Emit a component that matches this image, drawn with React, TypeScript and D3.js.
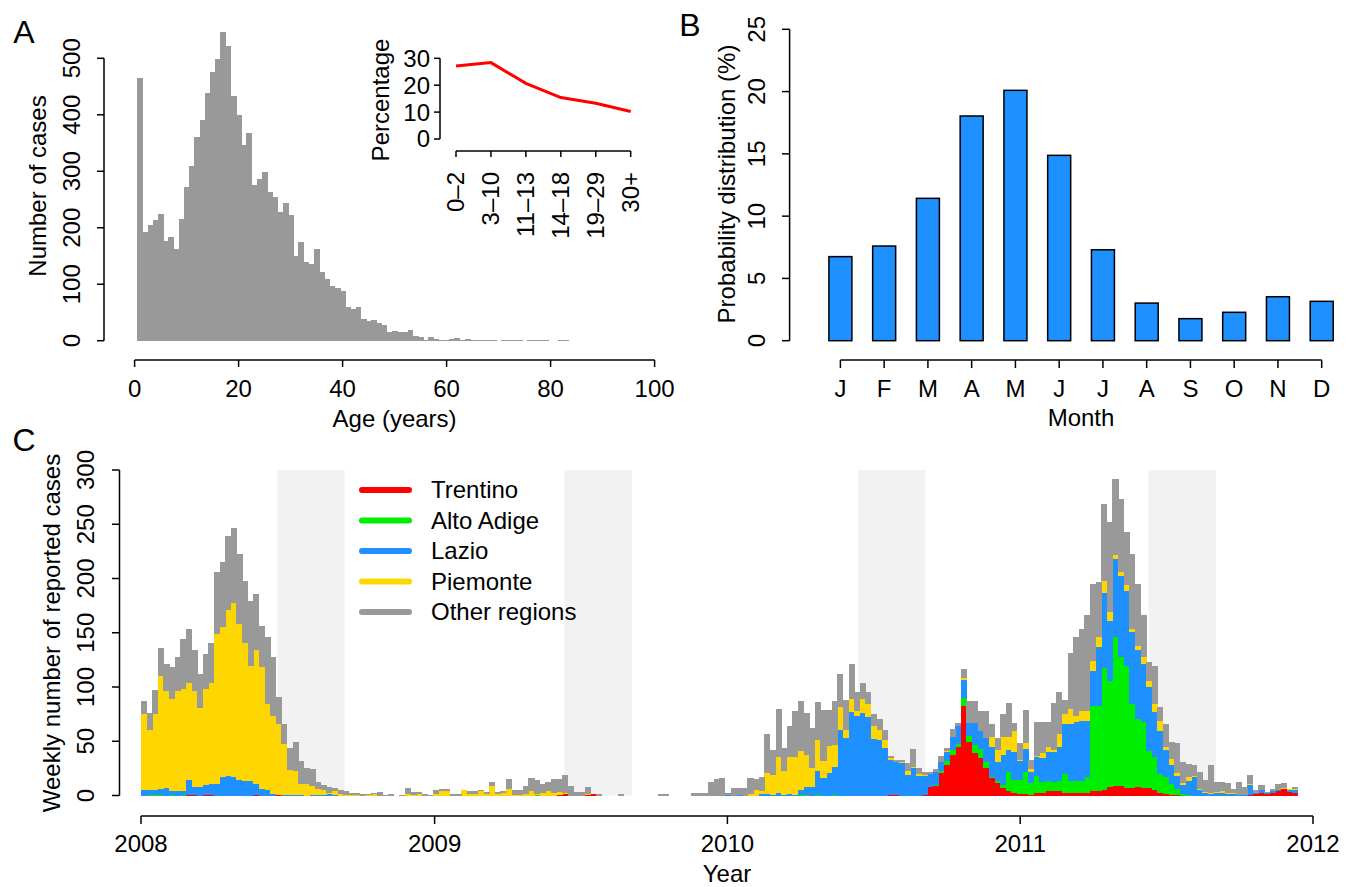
import React from "react";
import * as d3 from "d3";

const FONT = "'Liberation Sans', Arial, Helvetica, sans-serif";
const FS = 24;

// ---------- Panel A: age histogram (1-year bins, starting at 0.5) ----------
const ageCounts = [
  466, 193, 205, 214, 225, 177, 183, 163, 215, 273,
  309, 360, 391, 439, 476, 498, 547, 521, 434, 400,
  347, 368, 276, 287, 298, 263, 255, 227, 243, 223,
  150, 174, 139, 135, 162, 122, 109, 97, 93, 88,
  60, 56, 60, 38, 35, 37, 32, 28, 16, 18,
  16, 15, 19, 8, 6, 2, 6, 3, 2, 2,
  3, 5, 1, 3, 1, 1, 1, 2, 1, 0,
  1, 1, 1, 1, 0, 1, 1, 1, 1, 0,
  0, 1, 1,
];
const ageBinStart = 0.5;
const ageTicks = [0, 20, 40, 60, 80, 100];
const caseTicks = [0, 100, 200, 300, 400, 500];

// ---------- Inset ----------
const ageGroups = ["0\u20132", "3\u201310", "11\u201313", "14\u201318", "19\u201329", "30+"];
const ageGroupPct = [27.1, 28.4, 20.7, 15.4, 13.3, 10.2];
const pctTicks = [0, 10, 20, 30];

// ---------- Panel B ----------
const monthLabels = ["J", "F", "M", "A", "M", "J", "J", "A", "S", "O", "N", "D"];
const monthProb = [6.75, 7.6, 11.43, 18.04, 20.1, 14.88, 7.3, 3.02, 1.77, 2.28, 3.53, 3.16];
const probTicks = [0, 5, 10, 15, 20, 25];

// ---------- Panel C: weekly cases from 2008-01-01 ----------
const firstWeek = "2008-01-01";
const trentino = [
  0, 0, 0, 0, 0, 0, 0, 0, 1, 1,
  0, 1, 1, 0, 0, 0, 0, 0, 0, 0,
  1, 0, 0, 0, 0.5, 0, 0, 0, 0, 0,
  0, 0, 0, 0, 0, 0, 0, 0, 0, 0,
  0, 0, 0, 0, 0, 0, 0, 0, 0, 0,
  0, 0, 0, 0, 0, 0, 0, 0, 0, 0,
  0, 0, 0, 0, 0, 0, 0, 0, 0, 0,
  0, 0, 0, 0, 0.5, 2, 0, 0, 0, 1,
  1, 0, 0, 0, 0, 0, 0, 0, 0, 0,
  0, 0, 0, 0, 0, 0, 0, 0, 0, 0,
  0, 0, 0, 0, 0, 0, 0, 0, 0, 0,
  0, 0, 0, 0, 0, 0, 0, 0, 0, 0,
  0, 0, 0, 0, 0, 0, 0, 0, 0, 0,
  0, 0, 0, 1, 1, 0, 0, 0, 0, 1,
  8, 9, 21, 28, 38, 45, 83, 50, 39, 35,
  26, 16, 12, 7, 4, 3, 2, 2, 1, 3,
  3, 4, 4, 4, 3, 3, 3, 3, 3, 4,
  4, 5, 8, 9, 9, 7, 7, 8, 7, 7,
  5, 3, 2, 1, 1, 0, 0, 0, 0, 0,
  0, 0, 0, 0, 0, 0, 0, 1, 2, 3,
  2, 3, 4, 6, 3.5, 3,
];
const altoAdige = [
  0, 1, 0.5, 1, 0, 1, 0, 1, 0, 0,
  0, 0, 0, 0, 0, 0, 0, 0, 0, 0,
  0, 0, 0, 0, 0, 0, 0, 0, 0, 0,
  0, 0, 0, 0, 0, 0, 0, 0, 0, 0,
  0, 0, 0, 0, 0, 0, 0, 0, 0, 0,
  0, 0, 0, 0, 0, 0, 0, 0, 0, 0,
  0, 0, 0, 0, 0, 0, 0, 0, 0, 0,
  1, 0, 0, 0, 0, 0, 0, 0, 0, 0,
  0, 0, 0, 0, 0, 0, 0, 0, 0, 0,
  0, 0, 0, 0, 0, 0, 0, 0, 0, 0,
  0, 0, 0, 0, 0, 0, 0, 0, 0, 0,
  0, 0, 0, 0, 0, 0, 0, 0.5, 1, 0,
  1, 0, 0, 1, 0, 0, 0, 0, 0, 0,
  0, 0, 0, 0, 0, 0, 0, 0, 0, 0,
  0, 1, 2, 4, 4, 3, 7, 5, 8, 8,
  5, 1, 2, 3, 18, 12, 13, 20, 11, 15,
  10, 10, 9, 10, 17, 11, 11, 11, 14, 79,
  79, 113, 98, 137.6, 118.6, 113, 77.7, 63, 61, 34.7,
  30.6, 17, 15, 10, 5, 2, 1, 0, 0, 0,
  0, 0, 0, 0, 0, 0, 0, 0, 0, 0,
  0, 0, 0, 0, 0, 0,
];
const lazio = [
  5.5, 4, 4.5, 5, 7, 3.5, 4.5, 3.5, 14, 7,
  8, 9, 10, 11, 17, 18, 17, 15, 14, 14,
  10, 6, 5.5, 1.5, 0.5, 1, 1, 1, 0.5, 0,
  1, 0.5, 1, 1.5, 0.5, 0, 0, 0, 0, 0,
  0, 0, 0, 0, 0, 0, 0, 0, 0, 0,
  0, 0, 0, 0, 0, 0, 0, 0, 0, 0,
  0, 0, 0, 0, 0, 0, 0, 0, 0, 0,
  0, 0, 0, 0, 0, 0, 0, 0, 0, 0,
  0, 0, 0, 0, 0, 0, 0, 0, 0, 0,
  0, 0, 0, 0, 0, 0, 0, 0, 0, 0,
  0, 0, 0, 0, 1, 0, 1, 0, 0, 0,
  2, 2, 1, 3, 1, 2, 1, 4.5, 7.5, 8.5,
  22, 16, 21, 26, 61, 53, 77.6, 73.6, 76, 72.4,
  52, 51.5, 44, 32, 30.6, 30, 19, 26, 18, 17,
  12, 12, 8, 8, 12, 16, 17, 12, 20, 17,
  22, 28, 17, 28, 20, 25, 17, 21, 10, 18,
  22, 26, 27, 31, 46, 52, 54, 55, 52, 32,
  54, 69, 55, 71.4, 75.4, 69, 66, 63, 53.5, 58.3,
  41.4, 40, 25, 17, 12.7, 7.5, 13, 17, 5, 3,
  2, 3, 3, 2, 2, 1, 1, 8.5, 1, 2,
  0.5, 1, 1, 0.5, 2, 2,
];
const piemonte = [
  69.5, 56, 70, 104, 90, 84.5, 92.5, 93.5, 89, 89,
  73, 88, 93, 138, 139, 153, 161, 143, 127, 106,
  123, 113, 79.5, 72.5, 65, 47, 23, 22, 10.5, 11,
  8, 5.5, 4.5, 1.5, 3.5, 2, 1, 1, 0.5, 0,
  1, 1.5, 0, 0, 0, 0, 0, 2, 1, 1.5,
  0, 0, 1.5, 4.5, 4.5, 0, 0, 5, 2, 2,
  4.5, 2, 9, 2, 2.5, 6, 1, 1, 1.5, 4,
  1, 3, 4, 2.5, 3, 1, 0, 0, 0, 1,
  0, 0, 0, 0, 0, 0, 0, 0, 0, 0,
  0, 0, 0, 0, 0, 0, 0, 0, 0, 0,
  0, 0, 0, 0, 0, 0, 0, 0, 2, 5,
  2, 19, 18.5, 33, 22, 34, 35, 36, 29.5, 17,
  28.5, 16.5, 25, 20, 21, 8, 11.4, 5, 13, 12.3,
  12.4, 9.5, 7.5, 2, 0, 1, 3.4, 1, 2, 1,
  0, 0, 0, 1, 0, 0, 2, 0, 0, 0,
  0, 9, 11, 16, 12, 20, 1, 6, 3, 1,
  4, 5, 2, 12, 9.5, 14, 6, 9.5, 9.5, 9.5,
  9, 11, 8, 4, 3, 5.5, 3, 4, 6.5, 6,
  8, 8.7, 3, 6, 2.3, 2.2, 3, 1, 1, 0.5,
  1, 0.5, 1, 1, 1, 0, 0, 1, 0, 0,
  0, 0, 0, 0.5, 0.5, 1,
];
const otherRegions = [
  12, 15, 22, 26, 24, 29, 31, 46, 49, 37,
  31, 32, 37, 57, 59, 68, 69, 65, 57, 59,
  52, 37, 61, 54, 25, 18, 20, 26, 21, 14,
  15, 6, 4.5, 5, 3, 3, 3, 1.5, 2, 1.5,
  0.5, 0.5, 3, 0.5, 1, 0, 0.5, 5, 2, 1.5,
  1, 0.5, 3.5, 1.5, 1.5, 1, 1, 0, 2.6, 2.6,
  0.5, 1, 3, 1, 1.5, 9, 4, 4, 7.5, 12,
  12, 8, 8, 12.5, 11.5, 16, 9, 3, 3, 6,
  0, 1, 0, 0, 0, 1.5, 0, 0, 0, 0,
  0, 0, 1, 1, 0, 0, 0, 0, 2, 2,
  2, 12, 15, 16, 1, 7, 6, 7, 14, 10,
  13, 36, 22.5, 44, 21, 28, 41.6, 46, 38, 36.5,
  35, 46.5, 33, 40, 30, 27, 32, 16.5, 15, 11,
  11.1, 9.6, 9.2, 1, 1.4, 2, 7.6, 15.9, 5.5, 2.5,
  2, 2, 5, 3, 7, 3, 8, 20, 20, 18,
  25, 12, 11, 21, 31, 7, 15, 30, 8, 31,
  29, 23, 43, 38, 12.5, 51, 72, 74.5, 87.5, 70,
  51, 71, 83, 70, 67, 48.5, 69.3, 57, 38, 17,
  34, 12.9, 21, 15, 27, 19.3, 12.4, 10, 16, 10.5,
  25, 9, 8.6, 8.7, 3.4, 11.6, 7, 8.2, 2, 4.5,
  1, 2.4, 5.4, 4.7, 0.4, 2,
];
const regionKeys = ["trentino", "altoAdige", "lazio", "piemonte", "other"];
const regionNames = ["Trentino", "Alto Adige", "Lazio", "Piemonte", "Other regions"];
const regionColors = ["#FF0000", "#00EE00", "#1E90FF", "#FFD700", "#999999"];
const yearTicks = [2008, 2009, 2010, 2011, 2012];
const weeklyTicks = [0, 50, 100, 150, 200, 250, 300];
const holidayStarts = ["2008-06-19", "2009-06-12", "2010-06-13", "2011-06-10"];
const holidayDays = 84;

const parse = d3.timeParse("%Y-%m-%d");

export default function App() {
  // Panel A scales
  const xA = d3.scaleLinear().domain([0, 100]).range([134.6, 654.6]);
  const yA = d3.scaleLinear().domain([0, 500]).range([340.7, 58.3]);
  // Inset scales
  const xI = d3.scalePoint<string>().domain(ageGroups).range([456, 630.7]);
  const yI = d3.scaleLinear().domain([0, 30]).range([139, 58.3]);
  // Panel B scales
  const xB = d3.scalePoint<number>().domain(d3.range(monthLabels.length)).range([840.4, 1321.7]);
  const yB = d3.scaleLinear().domain([0, 25]).range([340.7, 29.3]);
  const barW = 23;
  // Panel C scales
  const xC = d3
    .scaleTime()
    .domain([new Date(2008, 0, 1), new Date(2012, 0, 1)])
    .range([141, 1313]);
  const yC = d3.scaleLinear().domain([0, 300]).range([795.5, 470]);

  const start = parse(firstWeek) as Date;
  const rows = trentino.map((_, k) => ({
    week: d3.timeDay.offset(start, 7 * k),
    trentino: trentino[k],
    altoAdige: altoAdige[k],
    lazio: lazio[k],
    piemonte: piemonte[k],
    other: otherRegions[k],
  }));
  const series = d3.stack<any>().keys(regionKeys)(rows);

  const inLine = d3
    .line<number>()
    .x((_, i) => xI(ageGroups[i]) as number)
    .y((d) => yI(d));

  const axisStroke = { stroke: "#000", strokeWidth: 1.5, fill: "none" };
  const txt = { fontFamily: FONT, fontSize: FS, fill: "#000" } as const;

  return (
    <svg
      width={1353}
      height={887}
      style={{ position: "absolute", left: 0, top: 0, background: "#fff" }}
    >
      <rect x={0} y={0} width={1353} height={887} fill="#fff" />

      {/* ================= Panel A ================= */}
      <text x={24} y={32} dy="0.35em" textAnchor="middle" {...txt} fontSize={32}>
        A
      </text>
      <g shapeRendering="crispEdges" fill="#999999">
        {ageCounts.map((c, i) =>
          c > 0 ? (
            <rect
              key={"h" + i}
              x={xA(ageBinStart + i)}
              y={yA(c)}
              width={xA(ageBinStart + i + 1) - xA(ageBinStart + i) + 0.5}
              height={yA(0) - yA(c)}
            />
          ) : null
        )}
      </g>
      {/* y axis */}
      <line x1={104} x2={104} y1={yA(0)} y2={yA(500)} {...axisStroke} />
      {caseTicks.map((t) => (
        <g key={"ya" + t}>
          <line x1={97} x2={104} y1={yA(t)} y2={yA(t)} {...axisStroke} />
          <text
            transform={`translate(72,${yA(t)}) rotate(-90)`}
            textAnchor="middle"
            dy="0.35em"
            {...txt}
          >
            {t}
          </text>
        </g>
      ))}
      <text transform={`translate(38,186) rotate(-90)`} textAnchor="middle" dy="0.35em" {...txt}>
        Number of cases
      </text>
      {/* x axis */}
      <line x1={xA(0)} x2={xA(100)} y1={360} y2={360} {...axisStroke} />
      {ageTicks.map((t) => (
        <g key={"xa" + t}>
          <line x1={xA(t)} x2={xA(t)} y1={360} y2={367} {...axisStroke} />
          <text x={xA(t)} y={389} dy="0.35em" textAnchor="middle" {...txt}>
            {t}
          </text>
        </g>
      ))}
      <text x={xA(50)} y={419} dy="0.35em" textAnchor="middle" {...txt}>
        Age (years)
      </text>

      {/* ---------- Inset ---------- */}
      <path d={inLine(ageGroupPct) || ""} stroke="#FF0000" strokeWidth={3} fill="none" />
      <line x1={440} x2={440} y1={yI(0)} y2={yI(30)} {...axisStroke} />
      {pctTicks.map((t) => (
        <g key={"yi" + t}>
          <line x1={434} x2={440} y1={yI(t)} y2={yI(t)} {...axisStroke} />
          <text x={430} y={yI(t)} dy="0.35em" textAnchor="end" {...txt}>
            {t}
          </text>
        </g>
      ))}
      <text transform={`translate(381,100) rotate(-90)`} textAnchor="middle" dy="0.35em" {...txt}>
        Percentage
      </text>
      <line
        x1={xI(ageGroups[0])}
        x2={xI(ageGroups[ageGroups.length - 1])}
        y1={151}
        y2={151}
        {...axisStroke}
      />
      {ageGroups.map((g) => (
        <g key={"xi" + g}>
          <line x1={xI(g)} x2={xI(g)} y1={151} y2={157} {...axisStroke} />
          <text
            transform={`translate(${xI(g)},172) rotate(-90)`}
            textAnchor="end"
            dy="0.35em"
            {...txt}
          >
            {g}
          </text>
        </g>
      ))}

      {/* ================= Panel B ================= */}
      <text x={690} y={25} dy="0.35em" textAnchor="middle" {...txt} fontSize={32}>
        B
      </text>
      {monthProb.map((v, i) => (
        <rect
          key={"b" + i}
          x={(xB(i) as number) - barW / 2}
          y={yB(v)}
          width={barW}
          height={yB(0) - yB(v)}
          fill="#1E90FF"
          stroke="#000"
          strokeWidth={1.5}
        />
      ))}
      <line x1={789.6} x2={789.6} y1={yB(0)} y2={yB(25)} {...axisStroke} />
      {probTicks.map((t) => (
        <g key={"yb" + t}>
          <line x1={782} x2={789.6} y1={yB(t)} y2={yB(t)} {...axisStroke} />
          <text
            transform={`translate(757,${yB(t)}) rotate(-90)`}
            textAnchor="middle"
            dy="0.35em"
            {...txt}
          >
            {t}
          </text>
        </g>
      ))}
      <text transform={`translate(727,184) rotate(-90)`} textAnchor="middle" dy="0.35em" {...txt}>
        Probability distribution (%)
      </text>
      <line x1={xB(0)} x2={xB(11)} y1={360} y2={360} {...axisStroke} />
      {monthLabels.map((m, i) => (
        <g key={"xb" + i}>
          <line x1={xB(i)} x2={xB(i)} y1={360} y2={368} {...axisStroke} />
          <text x={xB(i)} y={389} dy="0.35em" textAnchor="middle" {...txt}>
            {m}
          </text>
        </g>
      ))}
      <text x={1081} y={418} dy="0.35em" textAnchor="middle" {...txt}>
        Month
      </text>

      {/* ================= Panel C ================= */}
      <text x={24} y={440} dy="0.35em" textAnchor="middle" {...txt} fontSize={32}>
        C
      </text>
      {holidayStarts.map((s) => {
        const d0 = parse(s) as Date;
        const d1 = d3.timeDay.offset(d0, holidayDays);
        return (
          <rect
            key={"hol" + s}
            x={xC(d0)}
            y={yC(300)}
            width={xC(d1) - xC(d0)}
            height={yC(0) - yC(300)}
            fill="#F2F2F2"
          />
        );
      })}
      <g shapeRendering="crispEdges">
        {series.map((s, si) => (
          <g key={"s" + si} fill={regionColors[si]}>
            {s.map((d: any, k: number) => {
              const h = yC(d[0]) - yC(d[1]);
              if (h <= 0) return null;
              const x0 = xC(d.data.week);
              const x1 = xC(d3.timeDay.offset(d.data.week, 7));
              return (
                <rect key={k} x={x0} y={yC(d[1])} width={x1 - x0 + 0.5} height={h + 0.3} />
              );
            })}
          </g>
        ))}
      </g>
      {/* y axis */}
      <line x1={119.5} x2={119.5} y1={yC(0)} y2={yC(300)} {...axisStroke} />
      {weeklyTicks.map((t) => (
        <g key={"yc" + t}>
          <line x1={112} x2={119.5} y1={yC(t)} y2={yC(t)} {...axisStroke} />
          <text
            transform={`translate(86,${yC(t)}) rotate(-90)`}
            textAnchor="middle"
            dy="0.35em"
            {...txt}
          >
            {t}
          </text>
        </g>
      ))}
      <text transform={`translate(52,633) rotate(-90)`} textAnchor="middle" dy="0.35em" {...txt}>
        Weekly number of reported cases
      </text>
      {/* x axis */}
      <line
        x1={xC(new Date(2008, 0, 1))}
        x2={xC(new Date(2012, 0, 1))}
        y1={816}
        y2={816}
        {...axisStroke}
      />
      {yearTicks.map((yr) => {
        const x = xC(new Date(yr, 0, 1));
        return (
          <g key={"xc" + yr}>
            <line x1={x} x2={x} y1={816} y2={824} {...axisStroke} />
            <text x={x} y={844} dy="0.35em" textAnchor="middle" {...txt}>
              {yr}
            </text>
          </g>
        );
      })}
      <text x={727} y={874} dy="0.35em" textAnchor="middle" {...txt}>
        Year
      </text>
      {/* legend */}
      {regionNames.map((n, i) => {
        const y = 490 + i * 30.5;
        return (
          <g key={"lg" + i}>
            <line
              x1={362}
              x2={409}
              y1={y}
              y2={y}
              stroke={regionColors[i]}
              strokeWidth={6}
              strokeLinecap="round"
            />
            <text x={431} y={y} dy="0.35em" {...txt}>
              {n}
            </text>
          </g>
        );
      })}
    </svg>
  );
}
